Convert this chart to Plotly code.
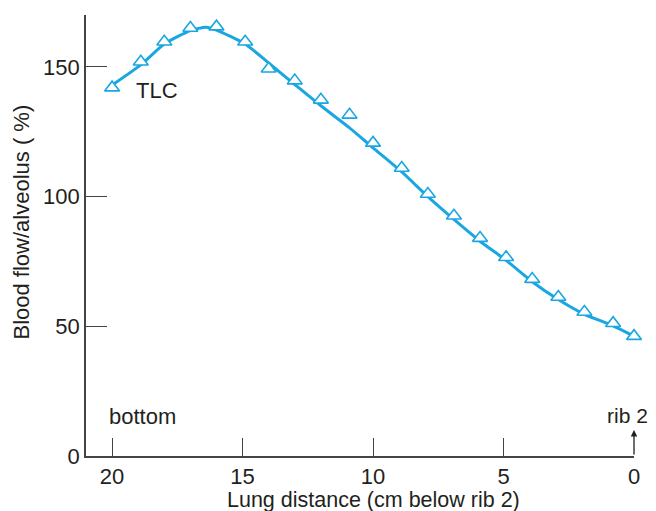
import plotly.graph_objects as go

# triangles (measured points)
pts_x = [20, 18.9, 18, 17, 16, 14.9, 14, 13, 12, 10.9, 10, 8.9, 7.9, 6.9, 5.9, 4.9, 3.9, 2.9, 1.9, 0.8, 0]
pts_y = [142, 152, 159.7, 165, 165.5, 159.7, 149.3, 144.7, 137.3, 131.5, 120.7, 111, 101, 92.6, 84, 76.6, 68.2, 61.3, 55.5, 51.2, 46.2]

# smooth curve drawn through them
curve_x = [20, 18.9, 18, 17, 16.4, 16, 14.9, 14, 13, 12, 10.9, 10, 8.9, 7.9, 6.9, 5.9, 4.9, 3.9, 2.9, 1.9, 0.8, 0]
curve_y = [143, 150.8, 158.8, 164, 165.3, 164.2, 158.8, 151.5, 143.2, 135, 126.5, 118.8, 109.5, 100, 91.2, 82.8, 75.4, 67.2, 60.3, 54.6, 50.2, 46.2]

x_ticks = [20, 15, 10, 5, 0]
y_ticks = [0, 50, 100, 150]

blue = "#1aa7e1"
ink = "#231f20"
font = "Liberation Sans, Arial, sans-serif"

fig = go.Figure()
fig.add_trace(
    go.Scatter(
        x=curve_x, y=curve_y, mode="lines",
        line=dict(color=blue, width=3, shape="spline", smoothing=0.6),
        cliponaxis=False, hoverinfo="skip",
    )
)
fig.add_trace(
    go.Scatter(
        x=pts_x, y=pts_y, mode="markers",
        marker=dict(symbol="triangle-up", size=13, color="white",
                    line=dict(color=blue, width=1.6)),
        cliponaxis=False,
    )
)

# page body has an 8px margin, so the figure is a bit smaller than the window
fig.update_layout(
    template="none",
    width=648, height=503,
    margin=dict(l=78, r=22, t=7, b=55),
    paper_bgcolor="white", plot_bgcolor="white",
    showlegend=False,
    font=dict(family=font, size=22, color=ink),
    xaxis=dict(
        range=[21, 0], tickvals=x_ticks, ticks="inside", ticklen=18,
        tickwidth=1.3, tickcolor="#444", showline=True, linecolor="#444",
        linewidth=1.6, showgrid=False, zeroline=False, automargin=False,
    ),
    yaxis=dict(
        range=[0, 170], tickvals=y_ticks, ticks="inside", ticklen=21,
        tickwidth=1.3, tickcolor="#444", showline=True, linecolor="#444",
        linewidth=1.6, showgrid=False, zeroline=False, automargin=False,
    ),
)

fig.add_annotation(x=19.16, y=140.8, text="TLC", showarrow=False,
                   xanchor="left", font=dict(size=22))
fig.add_annotation(x=20.2, y=15.3, text="bottom", showarrow=False,
                   xanchor="left", font=dict(size=22))
fig.add_annotation(x=0, y=15.5, text="rib 2", showarrow=False,
                   xanchor="right", xshift=16, font=dict(size=21))
fig.add_annotation(x=0, y=10, ax=0, ay=0, axref="x", ayref="y", text="",
                   showarrow=True, arrowhead=2, arrowsize=1, arrowwidth=1.3,
                   arrowcolor=ink)
fig.add_annotation(x=10, y=0, xref="x", yref="paper", yshift=-44,
                   xanchor="center", yanchor="middle",
                   text="Lung distance (cm below rib 2)", showarrow=False,
                   font=dict(size=21.5))
fig.add_annotation(x=0, y=90, xref="paper", yref="y", xshift=-64,
                   xanchor="center", yanchor="middle",
                   text="Blood flow/alveolus ( %)", textangle=-90,
                   showarrow=False, font=dict(size=22))

fig.write_html("out.html")
